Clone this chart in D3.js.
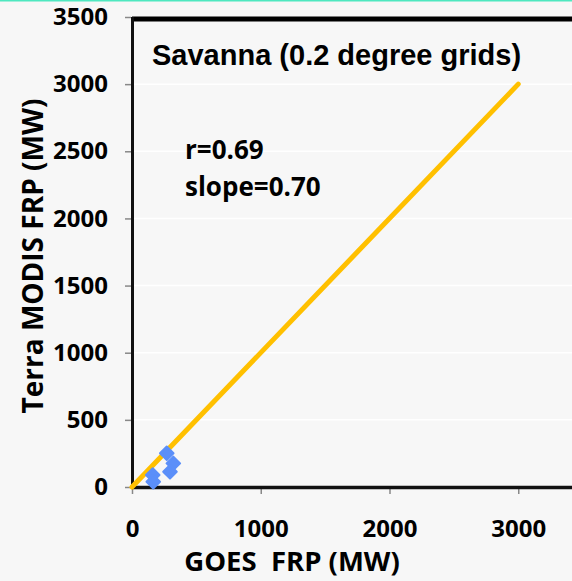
<!DOCTYPE html>
<html><head><meta charset="utf-8">
<script src="https://cdn.jsdelivr.net/npm/d3@7"></script>
<style>
html,body{margin:0;padding:0;background:#f7f7f7;}
svg{display:block;}
</style></head>
<body>
<svg id="chart" width="572" height="581"></svg>
<script>
const goesFRP  = [270, 321, 295, 161, 165];
const modisFRP = [251, 176, 114, 89, 39];
const fitLineX = [0, 3000];
const fitLineY = [0, 3000];
const xTicks = [0, 1000, 2000, 3000];
const yTicks = [0, 500, 1000, 1500, 2000, 2500, 3000, 3500];
const titleText = "Savanna (0.2 degree grids)";
const statsText = ["r=0.69", "slope=0.70"];
const xLabel = "GOES  FRP (MW)";
const yLabel = "Terra MODIS FRP (MW)";

const svg = d3.select("#chart");
const W = 572, H = 581;
const x = d3.scaleLinear().domain([0, 3500]).range([132, 132 + 3500 * 0.12875]);
const y = d3.scaleLinear().domain([0, 3500]).range([487, 17]);

svg.append("rect").attr("width", W).attr("height", H).attr("fill", "#f7f7f7");
svg.append("line").attr("x1", 0).attr("x2", W).attr("y1", 0.5).attr("y2", 0.5)
  .attr("stroke", "#4fe8c0").attr("stroke-width", 2);

// gridlines
svg.append("g").selectAll("line").data(yTicks.filter(d => d > 0 && d < 3500)).join("line")
  .attr("x1", x(0)).attr("x2", W).attr("y1", d => y(d)).attr("y2", d => y(d))
  .attr("stroke", "#ffffff").attr("stroke-width", 1.5);

// axes
const fontAxis = "'Open Sans', 'Noto Sans', sans-serif";
const yAxis = svg.append("g").attr("transform", `translate(${x(0) - 1},0)`)
  .call(d3.axisLeft(y).tickValues(yTicks).tickSize(6).tickPadding(17).tickFormat(d3.format("d")));
yAxis.select(".domain").remove();
yAxis.selectAll(".tick line").attr("stroke", "#888").attr("stroke-width", 1.5);
yAxis.selectAll("text").attr("font-family", fontAxis).attr("font-weight", "bold")
  .attr("font-size", 24).attr("fill", "#000");

const xAxis = svg.append("g").attr("transform", `translate(0,${y(0) + 1})`)
  .call(d3.axisBottom(x).tickValues(xTicks).tickSize(6).tickPadding(26).tickFormat(d3.format("d")));
xAxis.select(".domain").remove();
xAxis.selectAll(".tick line").attr("stroke", "#888").attr("stroke-width", 1.5);
xAxis.selectAll("text").attr("font-family", fontAxis).attr("font-weight", "bold")
  .attr("font-size", 24).attr("fill", "#000");

// frame lines
svg.append("line").attr("x1", x(0)).attr("x2", W).attr("y1", 19).attr("y2", 19)
  .attr("stroke", "#000").attr("stroke-width", 5);
svg.append("line").attr("x1", x(0) + 0.5).attr("x2", x(0) + 0.5).attr("y1", 17).attr("y2", y(0) + 1)
  .attr("stroke", "#111").attr("stroke-width", 3);
svg.append("line").attr("x1", x(0)).attr("x2", W).attr("y1", y(0) + 0.5).attr("y2", y(0) + 0.5)
  .attr("stroke", "#111").attr("stroke-width", 3.5);

// fit line
svg.append("line").attr("x1", x(fitLineX[0])).attr("y1", y(fitLineY[0]))
  .attr("x2", x(fitLineX[1])).attr("y2", y(fitLineY[1]))
  .attr("stroke", "#ffc000").attr("stroke-width", 5).attr("stroke-linecap", "round");

// points
const sym = d3.symbol().type(d3.symbolSquare).size(92);
svg.append("g").selectAll("path").data(goesFRP.map((g, i) => [g, modisFRP[i]])).join("path")
  .attr("d", sym)
  .attr("transform", d => `translate(${x(d[0])},${y(d[1])}) rotate(45)`)
  .attr("fill", "#5b8ff9").attr("stroke", "#5b8ff9").attr("stroke-width", 2).attr("stroke-linejoin", "round");

// texts
svg.append("text").attr("x", 152).attr("y", 65).text(titleText)
  .attr("font-family", "'Liberation Sans', Arial, sans-serif").attr("font-weight", "bold")
  .attr("font-size", 29).attr("fill", "#000");
svg.append("g").selectAll("text").data(statsText).join("text")
  .attr("x", 185).attr("y", (d, i) => 159 + i * 37).text(d => d)
  .attr("font-family", fontAxis).attr("font-weight", "bold")
  .attr("font-size", 26).attr("fill", "#000");

svg.append("text").attr("x", 292).attr("y", 571).attr("text-anchor", "middle")
  .attr("xml:space", "preserve").style("white-space", "pre").text(xLabel)
  .attr("font-family", fontAxis).attr("font-weight", "bold").attr("font-size", 27.5).attr("fill", "#000");
svg.append("text").attr("transform", "translate(43,256) rotate(-90)").attr("text-anchor", "middle")
  .text(yLabel)
  .attr("font-family", fontAxis).attr("font-weight", "bold").attr("font-size", 28).attr("fill", "#000");
</script>
</body></html>
